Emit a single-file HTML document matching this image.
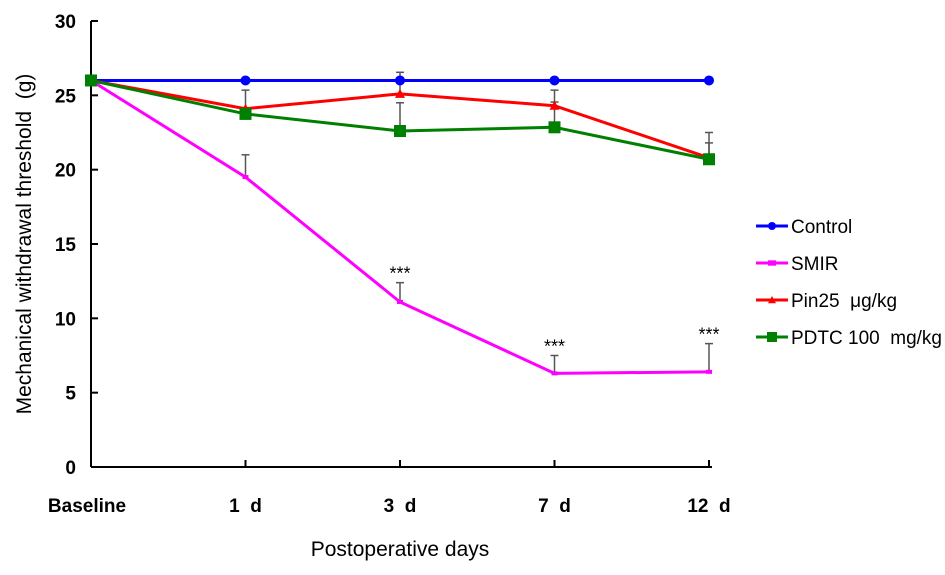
<!DOCTYPE html>
<html><head><meta charset="utf-8"><style>
body{margin:0;background:#fff;}
svg{display:block;font-family:"Liberation Sans",Arial,sans-serif;}
</style></head><body>
<svg id="chart" width="945" height="575" viewBox="0 0 945 575"></svg>
<script>
const categories=["Baseline","1  d","3  d","7  d","12  d"];
const yTicks=[0,5,10,15,20,25,30];
const controlVals=[26,26,26,26,26];
const smirVals=[26,19.5,11.1,6.3,6.4];
const smirErr=[0,1.5,1.3,1.2,1.9];
const pinVals=[26,24.1,25.1,24.3,20.8];
const pinErr=[0,1.25,1.45,1.05,1.0];
const pdtcVals=[26,23.75,22.6,22.85,20.7];
const pdtcErr=[0,0,1.9,1.7,1.8];
const stars=[false,false,true,true,true];
const seriesNames=["Control","SMIR","Pin25  μg/kg","PDTC 100  mg/kg"];

const NS="http://www.w3.org/2000/svg";
const svg=document.getElementById('chart');
function x(i){return 91+i*154.5;}
function y(v){return 467-v*(446/30);}
function mk(tag,attrs,parent){const e=document.createElementNS(NS,tag);for(const k in attrs)e.setAttribute(k,attrs[k]);(parent||svg).appendChild(e);return e;}

// axes
let ax=mk('line',{x1:91,y1:21,x2:91,y2:467,stroke:'#000','stroke-width':2});


ax=mk('line',{x1:91,y1:467,x2:712,y2:467,stroke:'#000','stroke-width':2});


yTicks.forEach(t=>{
  const l=mk('line',{x1:91,y1:y(t),x2:98,y2:y(t),stroke:'#000','stroke-width':2});
  
  
  const tx=mk('text',{x:76,y:y(t)+7,'text-anchor':'end','font-size':19,'font-weight':'bold'});
  tx.textContent=t;
  
  
});
categories.forEach((c,i)=>{
  if(i>0){const l=mk('line',{x1:x(i),y1:460,x2:x(i),y2:467,stroke:'#000','stroke-width':2});
  
  }
  const tx=mk('text',{x:i==0?87:x(i),y:512,'text-anchor':'middle','font-size':19,'font-weight':'bold','xml:space':'preserve'});
  tx.style.whiteSpace='pre';
  tx.textContent=c;
  
  
});
let t=mk('text',{x:400,y:556,'text-anchor':'middle','font-size':21});
t.textContent='Postoperative days';


t=mk('text',{x:0,y:0,'text-anchor':'middle','font-size':21,transform:'translate(31,244) rotate(-90)'});
t.textContent='Mechanical withdrawal threshold  (g)';
t.style.whiteSpace='pre';



function errs(vals,err,name){
  vals.forEach((v,i)=>{if(!err[i])return;
    const g=mk('g',{stroke:'#555','stroke-width':1.5});
    
    
    mk('line',{x1:x(i),y1:y(v),x2:x(i),y2:y(v+err[i])},g);
    mk('line',{x1:x(i)-4,y1:y(v+err[i]),x2:x(i)+4,y2:y(v+err[i])},g);
  });
}
errs(smirVals,smirErr,'smir');errs(pinVals,pinErr,'pin25');errs(pdtcVals,pdtcErr,'pdtc');

function marker(g,type,cx,cy,col,s){
  let m;
  if(type=='circle')m=mk('circle',{cx:cx,cy:cy,r:s||5,fill:col},g);
  else if(type=='square'){s=s||6;m=mk('rect',{x:cx-s,y:cy-s,width:2*s,height:2*s,fill:col},g);}
  else if(type=='tri'){s=s||5;m=mk('polygon',{points:`${cx},${cy-s} ${cx-s},${cy+s*0.8} ${cx+s},${cy+s*0.8}`,fill:col},g);}
  else {s=s||3;m=mk('rect',{x:cx-s,y:cy-s/1.5,width:2*s,height:2*s/1.5,fill:col},g);}
  return m;
}
function series(vals,col,type,name){
  const g=mk('g',{});
  
  
  const p=mk('polyline',{points:vals.map((v,i)=>x(i)+','+y(v)).join(' '),fill:'none',stroke:col,'stroke-width':3},g);
  
  
  vals.forEach((v,i)=>{const m=marker(g,type,x(i),y(v),col);
    
    });
}
series(smirVals,'#ff00ff','dash','smir');
series(controlVals,'#0000ff','circle','control');
series(pinVals,'#ff0000','tri','pin25');
series(pdtcVals,'#008000','square','pdtc');

stars.forEach((s,i)=>{if(!s)return;
  const tx=mk('text',{x:x(i),y:y(smirVals[i]+smirErr[i])-3,'text-anchor':'middle','font-size':18});
  tx.textContent='***';
  
  
});

// legend
const cols=['#0000ff','#ff00ff','#ff0000','#008000'],types=['circle','dash','tri','square'];
seriesNames.forEach((n,k)=>{
  const ly=226+k*37;
  const g=mk('g',{});
  
  
  mk('line',{x1:756,y1:ly,x2:788,y2:ly,stroke:cols[k],'stroke-width':3},g);
  marker(g,types[k],772,ly,cols[k],types[k]=='square'?5:4);
  const tx=mk('text',{x:791,y:ly+7,'font-size':19},g);
  tx.style.whiteSpace='pre';
  tx.textContent=n;
});
</script>
</body></html>
